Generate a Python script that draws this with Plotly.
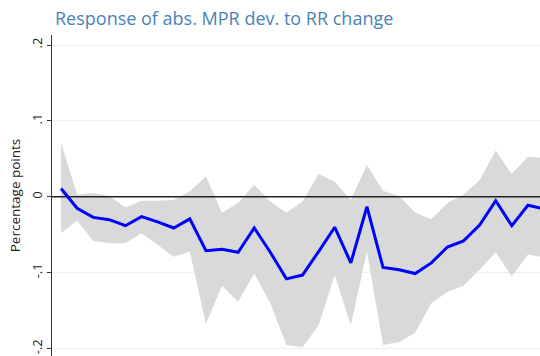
import plotly.graph_objects as go

# Impulse response horizon and estimates (percentage points)
horizon = list(range(31))
response = [0.011, -0.015, -0.027, -0.030, -0.038, -0.026, -0.033, -0.041, -0.029, -0.071,
            -0.069, -0.073, -0.041, -0.073, -0.108, -0.103, -0.072, -0.040, -0.087, -0.013,
            -0.093, -0.096, -0.101, -0.087, -0.066, -0.058, -0.037, -0.005, -0.038, -0.011,
            -0.016]
upper_ci = [0.071, 0.003, 0.005, 0.001, -0.014, -0.005, -0.005, -0.004, 0.007, 0.027,
            -0.021, -0.008, 0.016, -0.006, -0.021, -0.006, 0.030, 0.020, -0.004, 0.042,
            0.008, 0.001, -0.021, -0.029, -0.008, 0.003, 0.022, 0.061, 0.030, 0.053,
            0.051]
lower_ci = [-0.048, -0.031, -0.058, -0.061, -0.061, -0.048, -0.063, -0.079, -0.072, -0.167,
            -0.117, -0.138, -0.101, -0.140, -0.195, -0.198, -0.169, -0.103, -0.169, -0.072,
            -0.195, -0.191, -0.179, -0.140, -0.125, -0.117, -0.096, -0.073, -0.105, -0.076,
            -0.080]

y_tickvals = [0.2, 0.1, 0, -0.1, -0.2]
y_ticktext = [".2", ".1", "0", "-.1", "-.2"]

fig = go.Figure()

# Confidence band
fig.add_trace(go.Scatter(x=horizon, y=lower_ci, mode="lines",
                         line=dict(width=0, color="#d9d9d9"),
                         showlegend=False, hoverinfo="skip"))
fig.add_trace(go.Scatter(x=horizon, y=upper_ci, mode="lines",
                         line=dict(width=0, color="#d9d9d9"),
                         fill="tonexty", fillcolor="#d9d9d9",
                         showlegend=False, hoverinfo="skip"))

# Zero reference line, over the band and under the estimates
fig.add_trace(go.Scatter(x=[horizon[0] - 1, horizon[-1] + 1], y=[0, 0], mode="lines",
                         line=dict(color="#222222", width=1.5),
                         showlegend=False, hoverinfo="skip"))

# Point estimates
fig.add_trace(go.Scatter(x=horizon, y=response, mode="lines",
                         line=dict(color="#0000ff", width=3),
                         showlegend=False))

fig.update_layout(
    width=540, height=356,
    margin=dict(l=52, r=0, t=35, b=0),
    paper_bgcolor="white", plot_bgcolor="white",
    font=dict(family="Open Sans, DejaVu Sans, sans-serif", color="#222222"),
    title=dict(text="Response of abs. MPR dev. to RR change",
               x=0, xref="paper", xanchor="left",
               y=0.966, yref="container", yanchor="top",
               font=dict(size=18, color="#4a83b6", family="Open Sans, sans-serif"),
               pad=dict(l=3)),
    xaxis=dict(range=[-0.56, 29.75], showgrid=False, zeroline=False,
               showticklabels=False, ticks="", showline=False),
    yaxis=dict(range=[-0.2096, 0.2132], tickvals=y_tickvals, ticktext=y_ticktext,
               tickangle=-90, ticks="outside", ticklen=4, tickcolor="#333333",
               tickfont=dict(size=13, color="#222222"),
               showline=True, linecolor="#333333", linewidth=1,
               showgrid=True, gridcolor="#e9f1f3", gridwidth=1,
               zeroline=False,
               title=dict(text="Percentage points", standoff=4,
                          font=dict(size=13.5, color="#222222"))),
)

fig.write_html("out.html")
